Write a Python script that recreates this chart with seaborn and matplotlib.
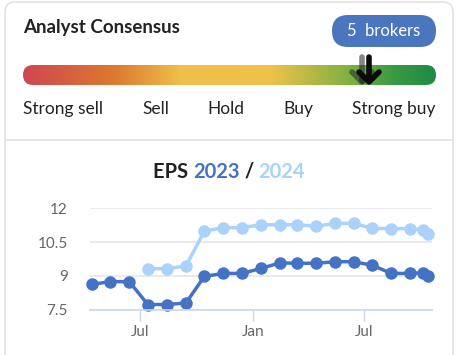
import numpy as np
import pandas as pd
import seaborn as sns
import matplotlib.pyplot as plt
from matplotlib.patches import FancyBboxPatch
from matplotlib.colors import LinearSegmentedColormap

# EPS estimates history
dates_2023 = ["2022-04-14", "2022-05-14", "2022-06-14", "2022-07-14", "2022-08-14",
              "2022-09-14", "2022-10-14", "2022-11-14", "2022-12-14", "2023-01-14",
              "2023-02-14", "2023-03-14", "2023-04-14", "2023-05-14", "2023-06-14",
              "2023-07-14", "2023-08-14", "2023-09-14", "2023-10-05", "2023-10-13"]
eps_2023 = [8.62, 8.75, 8.74, 7.73, 7.73, 7.80, 8.98, 9.11, 9.11, 9.33,
            9.58, 9.56, 9.56, 9.63, 9.63, 9.47, 9.11, 9.11, 9.14, 8.99]
dates_2024 = dates_2023[3:]
eps_2024 = [9.32, 9.32, 9.44, 10.99, 11.14, 11.14, 11.27, 11.27, 11.27, 11.20,
            11.33, 11.33, 11.11, 11.10, 11.10, 11.05, 10.84]

consensus_labels = ["Strong sell", "Sell", "Hold", "Buy", "Strong buy"]
n_brokers = 5

tick_dates = ["2022-07-01", "2023-01-01", "2023-07-01"]
tick_labels = ["Jul", "Jan", "Jul"]
ytick_vals = [7.5, 9, 10.5, 12]
ytick_labels = ["7.5", "9", "10.5", "12"]

dark = "#4472c4"
light = "#aad2fc"

df = pd.concat([
    pd.DataFrame({"date": pd.to_datetime(dates_2023), "eps": eps_2023, "year": "2023"}),
    pd.DataFrame({"date": pd.to_datetime(dates_2024), "eps": eps_2024, "year": "2024"}),
])

sns.set_style("white")
plt.rcParams['font.family'] = ['Lato', 'DejaVu Sans']

W, H = 462, 355
fig = plt.figure(figsize=(W / 100, H / 100), dpi=100)

# overlay in pixel coords for the card decorations
deco = fig.add_axes([0, 0, 1, 1])
deco.set_xlim(0, W)
deco.set_ylim(H, 0)
deco.set_axis_off()

card = FancyBboxPatch((5, 2), 448, 380, boxstyle="round,pad=0,rounding_size=10",
                      facecolor="white", edgecolor="#e3e3e3", linewidth=1.2)
deco.add_patch(card)
deco.plot([5, 453], [140, 140], color="#e3e3e3", lw=1.2)

deco.text(23, 28, "Analyst Consensus", fontsize=13.5, fontweight="bold", color="#222222",
          va="center", ha="left")

pill = FancyBboxPatch((332, 15), 104, 32, boxstyle="round,pad=0,rounding_size=16",
                      facecolor="#4a76c0", edgecolor="none")
deco.add_patch(pill)
deco.text(384, 31, "{}  brokers".format(n_brokers), fontsize=12, color="white",
          ha="center", va="center")

# gradient bar
cmap = LinearSegmentedColormap.from_list("cons", [
    (0.0, "#d0474f"), (0.22, "#db7a2f"), (0.38, "#eebf4a"), (0.6, "#efc24a"),
    (0.8, "#7ab040"), (0.9, "#3a9a44"), (1.0, "#208a45")])
grad = np.linspace(0, 1, 400).reshape(1, -1)
im = deco.imshow(grad, cmap=cmap, aspect="auto", extent=(23, 436, 85, 65), zorder=2)
bar = FancyBboxPatch((23, 65), 413, 20, boxstyle="round,pad=0,rounding_size=10",
                     facecolor="none", edgecolor="none", transform=deco.transData)
deco.add_patch(bar)
im.set_clip_path(bar)
deco.set_xlim(0, W)
deco.set_ylim(H, 0)

# marker arrows (previous + current)
for ax0, col, al in [(362, "#222222", 0.55), (369, "#0a0a0a", 1.0)]:
    deco.plot([ax0, ax0], [57, 81], color=col, alpha=al, lw=4, solid_capstyle="round", zorder=3)
    deco.plot([ax0 - 10, ax0, ax0 + 10], [72, 82, 72], color=col, alpha=al, lw=4,
              solid_capstyle="round", solid_joinstyle="round", zorder=3)

label_x = [23, 156, 226, 298, 436]
label_ha = ["left", "center", "center", "center", "right"]
for lx, lab, ha in zip(label_x, consensus_labels, label_ha):
    deco.text(lx, 109, lab, fontsize=12.5, color="#222222", ha=ha, va="center")

# title pieces, centred around x=230
parts = [("EPS ", "#222222"), ("2023", dark), (" / ", "#222222"), ("2024", light)]
texts = []
for part, col in parts:
    texts.append(deco.text(0, 172, part, fontsize=14.5, fontweight="bold", color=col,
                           ha="left", va="center"))
fig.canvas.draw()
widths = [t.get_window_extent().width for t in texts]
tx = 229 - sum(widths) / 2
for t, w in zip(texts, widths):
    t.set_x(tx)
    tx += w

# main chart
ax = fig.add_axes([90 / W, (H - 309.7) / H, 342 / W, (309.7 - 208.3) / H])
ax.patch.set_alpha(0)
sns.lineplot(data=df, x="date", y="eps", hue="year", palette={"2023": dark, "2024": light},
             marker="o", markersize=9, markeredgewidth=0, linewidth=2.5, ax=ax,
             legend=False, clip_on=False)
ax.set_xlim(pd.Timestamp("2022-04-11"), pd.Timestamp("2023-10-19"))
ax.set_ylim(7.5, 12)
ax.set_yticks(ytick_vals)
ax.set_yticklabels(ytick_labels)
ax.set_xticks(pd.to_datetime(tick_dates))
ax.set_xticklabels(tick_labels)
ax.grid(axis="y", color="#e6e6e6", lw=1.2)
ax.set_axisbelow(True)
for s in ["top", "right", "left"]:
    ax.spines[s].set_visible(False)
ax.spines["bottom"].set_color("#ccd6eb")
ax.spines["bottom"].set_linewidth(1.2)
ax.tick_params(axis="x", length=8, width=1, color="#ccd6eb", labelcolor="#666666",
               labelsize=11, pad=3, direction="out", bottom=True)
ax.tick_params(axis="y", left=True, length=0, labelcolor="#666666", labelsize=11, pad=16)
ax.set_xlabel("")
ax.set_ylabel("")

fig.savefig("out.png", dpi=100)
